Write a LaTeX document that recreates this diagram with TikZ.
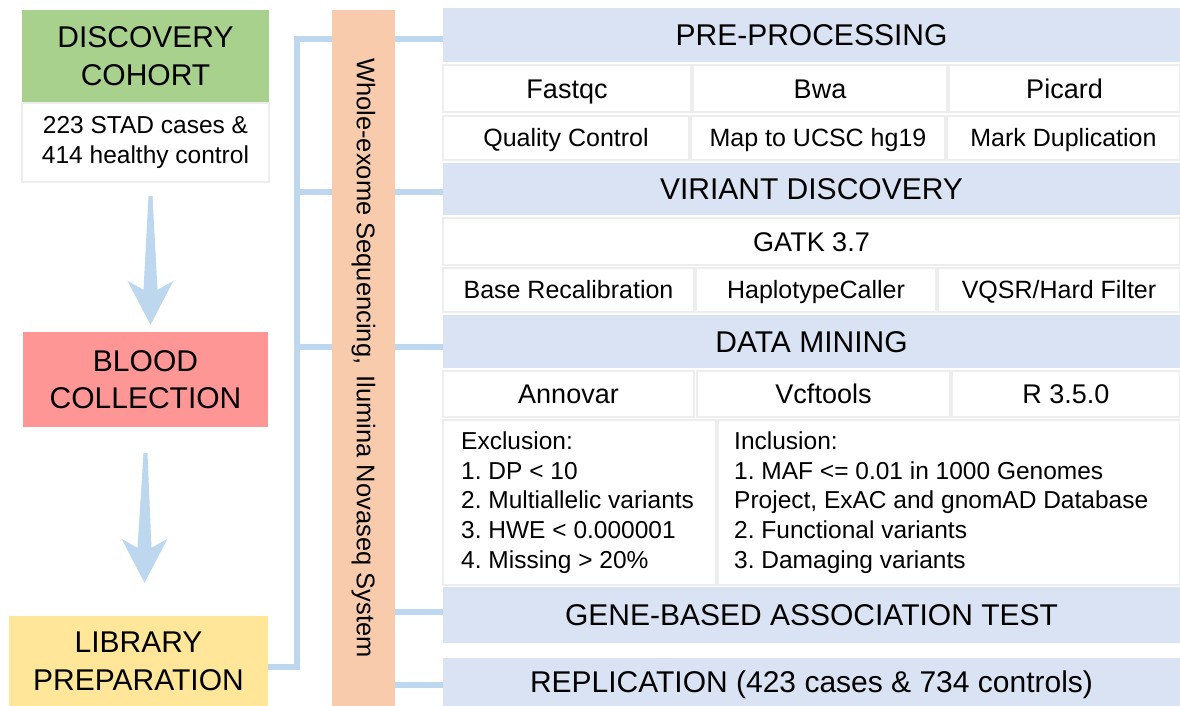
\documentclass[tikz,border=0pt]{standalone}
\usepackage{fontspec}
\setmainfont{Liberation Sans}
\usetikzlibrary{calc}
\frenchspacing
\definecolor{cgreen}{HTML}{A9D18E}
\definecolor{cpink}{HTML}{FF9696}
\definecolor{cyellow}{HTML}{FFE699}
\definecolor{corange}{HTML}{F8CBAD}
\definecolor{chead}{HTML}{DAE3F3}
\definecolor{cline}{HTML}{BDD7EE}
\definecolor{cgrid}{HTML}{EDEDED}
\newcommand\bx[7]{%
  \node[#1, minimum width={(#5-#3)*1pt}, minimum height={(#6-#4)*1pt}] (#2) at ({(#3+#5)/2},{(#4+#6)/2}) {#7};}
\newcommand\bigarrow[2]{%
  \fill[cline] let \p1=(#1), \p2=(#2) in
   (\x1-2pt,\y1) -- (\x1+2pt,\y1) -- (\x2+7pt,\y2+35pt) -- (\x2+23pt,\y2+44pt) -- (\x2,\y2)
   -- (\x2-23pt,\y2+44pt) -- (\x2-7pt,\y2+35pt) -- cycle;}
\tikzset{
 hdr/.style={fill=chead, inner sep=0pt, text height=21.5pt, text depth=0pt, font=\fontsize{30}{36}\selectfont},
 cell/.style={fill=white, draw=cgrid, line width=2pt, inner sep=0pt, text height=17.9pt, text depth=0pt, font=\fontsize{25}{30}\selectfont},
 cellb/.style={cell, text height=19.3pt, font=\fontsize{27}{32}\selectfont},
 lbox/.style={inner sep=0pt, align=center, font=\fontsize{30}{38}\selectfont},
 conn/.style={draw=cline, line width=6pt, line join=miter},
 vbar/.style={fill=corange, inner sep=0pt, font=\fontsize{25.5}{30}\selectfont},
 ltext/.style={inner sep=0pt, align=left, anchor=west, font=\fontsize{24.5}{29.7}\selectfont},
}
\begin{document}
\begin{tikzpicture}[x=1pt,y=-1pt]
\useasboundingbox (0,0) rectangle (1180,706);
% left column
\bx{lbox,fill=cgreen}{cohort}{22}{10}{269}{103}{DISCOVERY\\COHORT}
\bx{lbox,fill=white,draw=cgrid,line width=2pt,font=\fontsize{24.5}{30}\selectfont}{cohortsub}{22}{103}{269}{182}{223 STAD cases \&\\414 healthy control}
\bx{lbox,fill=cpink,font=\fontsize{30}{37}\selectfont}{blood}{23}{332}{268}{427}{BLOOD\\COLLECTION}
\bx{lbox,fill=cyellow}{lib}{9}{616}{268}{706}{LIBRARY\\PREPARATION}
% big arrows
\coordinate (a1s) at ($(cohortsub.south)+(5,13)$);
\coordinate (a1e) at ($(blood.north)+(5,-7)$);
\coordinate (a2s) at ($(blood.south)+(0,26)$);
\coordinate (a2e) at ($(lib.north)+(6,-33)$);
\bigarrow{a1s}{a1e}
\bigarrow{a2s}{a2e}
% vertical bar
\node[vbar, rotate=-90, minimum width=696pt, minimum height=63pt] (wes) at (363.5,358) {Whole-exome Sequencing, \,Ilumina Novaseq System};
% right cells
\bx{cellb}{fastqc}{443}{65}{691}{112}{Fastqc}
\bx{cellb}{bwa}{693}{65}{947}{112}{Bwa}
\bx{cellb}{picard}{949}{65}{1180}{112}{Picard}
\bx{cell}{qc}{443}{116}{689}{160}{Quality Control}
\bx{cell}{map}{691}{116}{945}{160}{Map to UCSC hg19}
\bx{cell}{mark}{947}{116}{1180}{160}{Mark Duplication}
\bx{cellb}{gatk}{443}{218}{1180}{265}{GATK 3.7}
\bx{cell}{bqsr}{443}{268}{694}{312}{Base Recalibration}
\bx{cell}{hc}{696}{268}{936}{312}{HaplotypeCaller}
\bx{cell}{vqsr}{938}{268}{1180}{312}{VQSR/Hard Filter}
\bx{cellb}{annovar}{443}{371}{694}{417}{Annovar}
\bx{cellb}{vcf}{697}{371}{950}{417}{Vcftools}
\bx{cellb}{rr}{952}{371}{1180}{417}{R 3.5.0}
\bx{cell}{excl}{443}{420}{716}{585}{}
\bx{cell}{incl}{718}{420}{1180}{585}{}
\node[ltext] (excltxt) at ($(excl.west)+(19,0)$) {Exclusion:\\1. DP < 10\\2. Multiallelic variants\\3. HWE < 0.000001\\4. Missing > 20\%};
\node[ltext] (incltxt) at ($(incl.west)+(17,0)$) {Inclusion:\\1. MAF <= 0.01 in 1000 Genomes\\Project, ExAC and gnomAD Database\\2. Functional variants\\3. Damaging variants};
% headers
\bx{hdr}{pre}{443}{8}{1180}{62}{PRE-PROCESSING}
\bx{hdr}{vd}{443}{163}{1180}{215}{VIRIANT DISCOVERY}
\bx{hdr}{dm}{443}{315}{1180}{368}{DATA MINING}
\bx{hdr}{gb}{443}{587}{1180}{643}{GENE-BASED ASSOCIATION TEST}
\bx{hdr}{rep}{443}{658}{1180}{706}{REPLICATION (423 cases \& 734 controls)}
% connectors left
\coordinate (L1) at (332,39);
\coordinate (L2) at (332,192);
\coordinate (L3) at (332,347);
\coordinate (T) at (297,667);
\draw[conn] (T -| lib.east) -- (T) -- (T |- L1) -- (L1);
\draw[conn] (T |- L2) -- (L2);
\draw[conn] (T |- L3) -- (L3);
% connectors right
\coordinate (R1) at (395,39);
\coordinate (R2) at (395,192);
\coordinate (R3) at (395,347);
\coordinate (R4) at (395,612);
\coordinate (R5) at (395,685);
\draw[conn] (R1) -- (R1 -| pre.west);
\draw[conn] (R2) -- (R2 -| vd.west);
\draw[conn] (R3) -- (R3 -| dm.west);
\draw[conn] (R4) -- (R4 -| gb.west);
\draw[conn] (R5) -- (R5 -| rep.west);
\end{tikzpicture}
\end{document}
